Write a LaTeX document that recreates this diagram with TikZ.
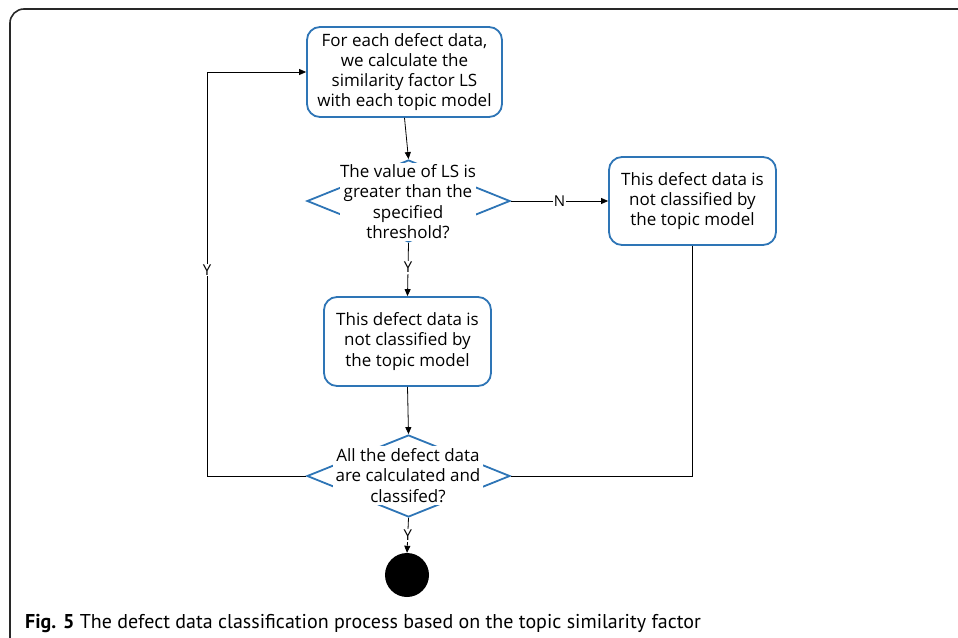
\documentclass[tikz,border=0pt]{standalone}
\usepackage{fontspec}
\setmainfont{Open Sans}
\newfontfamily\capfont{PT Sans}
\usetikzlibrary{arrows.meta,shapes.geometric}
\definecolor{boxblue}{RGB}{46,117,182}
\definecolor{framegray}{RGB}{40,40,40}
\begin{document}
\begin{tikzpicture}[x=1pt,y=-1pt,
  every node/.style={font=\fontsize{17}{20.3}\selectfont},
  procbox/.style={draw=boxblue, line width=1.8pt, rounded corners=13pt, fill=white,
    align=center, inner sep=0pt},
  decshape/.style={draw=boxblue, line width=1.8pt, diamond, inner sep=0pt},
  dectext/.style={fill=white, align=center, inner sep=0pt},
  flow/.style={draw=black, line width=0.8pt},
  arr/.style={flow, -{Triangle[length=7pt,width=6pt]}},
  lbl/.style={fill=white, inner sep=1pt, font=\fontsize{15}{16}\selectfont},
]
\useasboundingbox (0,0) rectangle (958,637);

% outer frame
\draw[framegray, line width=1.6pt, rounded corners=14pt] (10,645) -- (10,9) -- (965,9);

% process boxes
\node[procbox, minimum width=195pt, minimum height=90pt] (calc) at (404.5,72)
  {For each defect data,\\ we calculate the\\ similarity factor LS\\ with each topic model};
\node[procbox, minimum width=167pt, minimum height=88pt] (notcls) at (692.5,201)
  {This defect data is\\ not classified by\\ the topic model};
\node[procbox, minimum width=167pt, minimum height=89pt] (cls) at (407.5,341.5)
  {This defect data is\\ not classified by\\ the topic model};

% decisions: outline first, then the white text block on top
\node[decshape, minimum width=203pt, minimum height=82pt] (d1) at (408.5,201) {};
\node[dectext, minimum width=136pt, minimum height=78pt] (d1t) at (408,201.5)
  {The value of LS is\\ greater than the\\ specified\\ threshold?};
\node[decshape, minimum width=203pt, minimum height=82pt] (d2) at (408.5,476) {};
\node[dectext, minimum width=150pt, minimum height=59pt] (d2t) at (408,475.5)
  {All the defect data\\ are calculated and\\ classifed?};

% end point
\node[circle, fill=black, minimum size=44pt, inner sep=0pt] (stop) at (407,575) {};

% connectors
\draw[arr] (calc.south) -- (d1.north);
\draw[arr] (d1.south) -- node[lbl, pos=0.46] {Y} (cls.north);
\draw[arr] (d1.east) -- node[lbl, pos=0.5] {N} (notcls.west);
\draw[arr] (cls.south) -- (d2.north);
\draw[flow] (notcls.south) |- (d2.east);
\coordinate (loopcorner) at (207,476);
\draw[arr] (d2.west) -- (loopcorner) |- node[lbl, pos=0.255] {Y} (calc.west);
\draw[arr] (d2.south) -- node[lbl, pos=0.5] {Y} (stop.north);

% caption
\node[anchor=base west, inner sep=0pt, font=\capfont\fontsize{20}{22}\selectfont] (caption) at (25,628)
  {\textbf{Fig. 5} The defect data classification process based on the topic similarity factor};
\end{tikzpicture}
\end{document}
